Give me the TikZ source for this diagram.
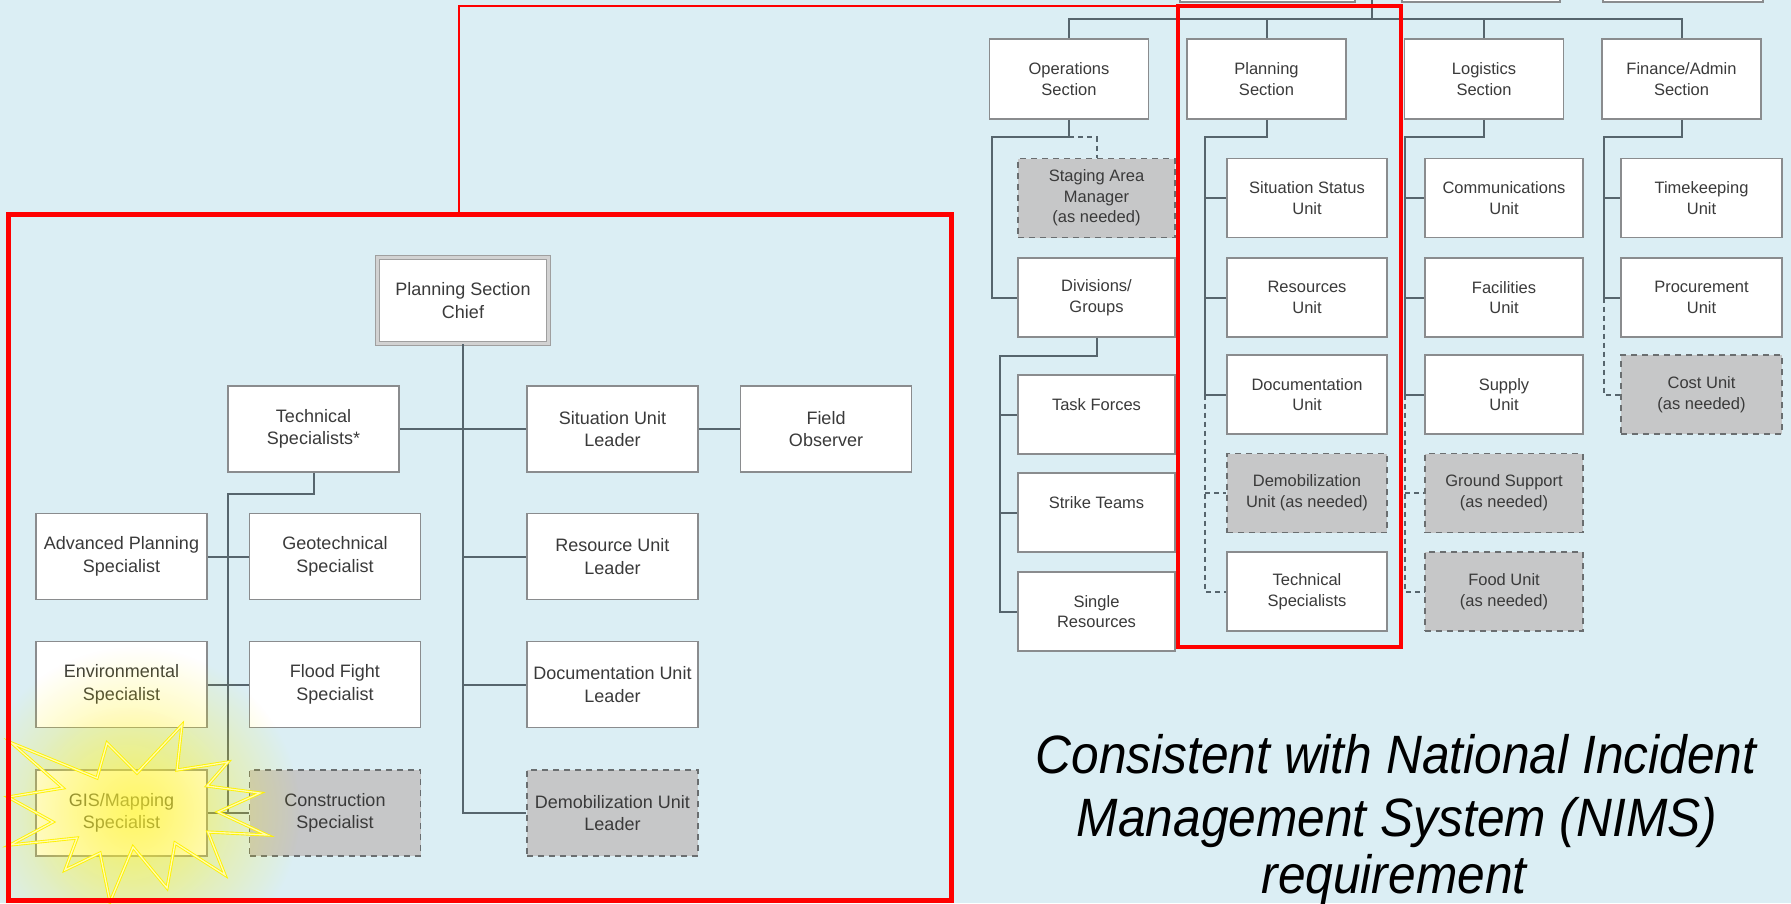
\documentclass[tikz,border=0pt]{standalone}
\usepackage{fontspec}
\setmainfont{Liberation Sans}
\newfontfamily\capfont[FakeStretch=0.92]{Liberation Sans}
\usetikzlibrary{fadings}
\definecolor{bg}{HTML}{DBEEF4}
\definecolor{linecol}{HTML}{56656D}
\definecolor{boxline}{HTML}{8A8C8E}
\definecolor{optfill}{HTML}{C6C7C8}
\definecolor{optline}{HTML}{6A6E70}
\definecolor{txt}{HTML}{3A3A3A}
\definecolor{redbox}{HTML}{FF0000}
\tikzfading[name=glowfade, inner color=transparent!0, outer color=transparent!100]
\tikzset{
  box/.style={draw=boxline, fill=white, line width=1.8pt, rectangle, inner sep=0pt, align=center, text=txt},
  opt/.style={fill=optfill, draw=optline, dash pattern=on 6pt off 5pt},
  lbox/.style={box, minimum width=171pt, minimum height=86pt, font=\fontsize{18}{22.4}\selectfont},
  chiefbox/.style={lbox, draw=gray!75, line width=1.4pt, double=gray!35, double distance=2.6pt},
  rbox/.style={box, minimum width=159pt, minimum height=79pt, font=\fontsize{16.5}{20.6}\selectfont},
  conn/.style={draw=linecol, line width=2pt},
  lconn/.style={draw=linecol, line width=2pt},
  optconn/.style={conn, dash pattern=on 5pt off 4pt},
  starburst/.style={draw=yellow, line width=0.9pt, double=yellow!30, double distance=1.3pt, line join=miter},
  bigtext/.style={font=\capfont\fontsize{54}{62}\selectfont\itshape, text=black, anchor=base, inner sep=0pt}
}
\begin{document}
\begin{tikzpicture}[x=1pt,y=-1pt]
\useasboundingbox (0,0) rectangle (1791,903);
\clip (0,0) rectangle (1791,903);
\fill[bg] (0,0) rectangle (1791,903);

% ---------------- right chart ----------------
% boxes cut off at the top
\node[rbox, minimum width=175pt, minimum height=44pt] (top1) at (1267.5,-20) {};
\node[rbox, minimum width=158pt, minimum height=44pt] (top2) at (1481,-20) {};
\node[rbox, minimum width=160pt, minimum height=44pt] (top3) at (1683,-20) {};

% sections
\node[rbox, minimum height=80pt] (ops)  at (1069,79)   {Operations\\Section};
\node[rbox, minimum height=80pt] (plan) at (1266.5,79) {Planning\\Section};
\node[rbox, minimum height=80pt] (log)  at (1484,79)   {Logistics\\Section};
\node[rbox, minimum height=80pt] (fin)  at (1681.5,79) {Finance/Admin\\Section};

% operations
\node[rbox, opt, minimum width=157pt] (stage)  at (1096.5,198)   {Staging Area\\Manager\\(as needed)};
\node[rbox, minimum width=157pt] (div)    at (1096.5,297.5) {Divisions/\\Groups};
\node[rbox, minimum width=157pt] (task)   at (1096.5,414.5) {Task Forces\\~};
\node[rbox, minimum width=157pt] (strike) at (1096.5,512.5) {Strike Teams\\~};
\node[rbox, minimum width=157pt] (single) at (1096.5,611.5) {Single\\Resources};

% planning
\node[rbox, minimum width=160pt] (psit)  at (1307,198)   {Situation Status\\Unit};
\node[rbox, minimum width=160pt] (pres)  at (1307,297.5) {Resources\\Unit};
\node[rbox, minimum width=160pt] (pdoc)  at (1307,394.5) {Documentation\\Unit};
\node[rbox, opt, minimum width=160pt] (pdem) at (1307,493) {Demobilization\\Unit (as needed)};
\node[rbox, minimum width=160pt] (ptech) at (1307,591.5) {Technical\\Specialists};

% logistics
\node[rbox, minimum width=158pt] (comm)   at (1504,198)   {Communications\\Unit};
\node[rbox, minimum width=158pt] (fac)    at (1504,297.5) {Facilities\\Unit};
\node[rbox, minimum width=158pt] (sup)    at (1504,394.5) {Supply\\Unit};
\node[rbox, opt, minimum width=158pt] (ground) at (1504,493)   {Ground Support\\(as needed)};
\node[rbox, opt, minimum width=158pt] (food)   at (1504,591.5) {Food Unit\\(as needed)};

% finance
\node[rbox, minimum width=161pt] (time) at (1701.5,198)   {Timekeeping\\Unit};
\node[rbox, minimum width=161pt] (proc) at (1701.5,297.5) {Procurement\\Unit};
\node[rbox, opt, minimum width=161pt] (cost) at (1701.5,394.5) {Cost Unit\\(as needed)};

% top bus
\coordinate (icup) at (1372,-5);
\coordinate (bus) at (1372,19);
\draw[conn] (icup) -- (bus);
\draw[conn] (ops.north) -- (ops.north |- bus) -- (fin.north |- bus) -- (fin.north);
\draw[conn] (plan.north) -- (plan.north |- bus);
\draw[conn] (log.north) -- (log.north |- bus);

% operations connectors
\coordinate (opsbend) at (992,137);
\draw[conn] (ops.south) |- (opsbend) |- (div.west);
\draw[optconn] (ops.south |- opsbend) -| (stage.north);
\coordinate (divbend) at (1000,356);
\draw[conn] (div.south) |- (divbend) |- (single.west);
\draw[conn] (divbend |- task.west) -- (task.west);
\draw[conn] (divbend |- strike.west) -- (strike.west);

% planning connectors
\coordinate (plbend) at (1205,137);
\draw[conn] (plan.south) |- (plbend) |- (pdoc.west);
\draw[conn] (plbend |- psit.west) -- (psit.west);
\draw[conn] (plbend |- pres.west) -- (pres.west);
\draw[optconn] (plbend |- pdoc.west) |- (ptech.west);
\draw[optconn] (plbend |- pdem.west) -- (pdem.west);

% logistics connectors
\coordinate (lgbend) at (1405,137);
\draw[conn] (log.south) |- (lgbend) |- (sup.west);
\draw[conn] (lgbend |- comm.west) -- (comm.west);
\draw[conn] (lgbend |- fac.west) -- (fac.west);
\draw[optconn] (lgbend |- sup.west) |- (food.west);
\draw[optconn] (lgbend |- ground.west) -- (ground.west);

% finance connectors
\coordinate (fnbend) at (1604,137);
\draw[conn] (fin.south) |- (fnbend) |- (proc.west);
\draw[conn] (fnbend |- time.west) -- (time.west);
\draw[optconn] (fnbend |- proc.west) |- (cost.west);

% ---------------- left chart ----------------
\node[chiefbox] (chief) at (463,300.5) {Planning Section\\Chief};
\node[lbox] (tech)  at (313.5,429)   {Technical\\Specialists*};
\node[lbox] (sit)   at (612.5,429)   {Situation Unit\\Leader};
\node[lbox] (field) at (826,429)     {Field\\Observer};
\node[lbox] (res)   at (612.5,556.5) {Resource Unit\\Leader};
\node[lbox] (doc)   at (612.5,684.5) {Documentation Unit\\Leader};
\node[lbox, opt] (demob) at (612.5,813) {Demobilization Unit\\Leader};
\node[lbox] (adv)   at (121.5,556.5) {Advanced Planning\\Specialist};
\node[lbox] (geo)   at (335,556.5)   {Geotechnical\\Specialist};
\node[lbox] (env)   at (121.5,684.5) {Environmental\\Specialist};
\node[lbox] (flood) at (335,684.5)   {Flood Fight\\Specialist};
\node[lbox] (gis)   at (121.5,813)   {GIS/Mapping\\Specialist};
\node[lbox, opt] (cons) at (335,813) {Construction\\Specialist};

\draw[lconn] (chief.south) |- (demob.west);
\draw[lconn] (chief.south |- res.west) -- (res.west);
\draw[lconn] (chief.south |- doc.west) -- (doc.west);
\draw[lconn] (tech.east) -- (sit.west);
\draw[lconn] (sit.east) -- (field.west);
\coordinate (tbend) at (228,494);
\draw[lconn] (tech.south) |- (tbend) -- (tbend |- gis.east);
\draw[lconn] (adv.east) -- (geo.west);
\draw[lconn] (env.east) -- (flood.west);
\draw[lconn] (gis.east) -- (cons.west);

% glow and star
\fill[yellow, fill opacity=0.6, path fading=glowfade] (135,812) circle (165pt);
\fill[yellow!60!white, fill opacity=0.35, path fading=glowfade] (125,812) circle (105pt);
\draw[starburst] (11.7,743) -- (97,778) -- (107,743) -- (137,773) -- (182,725) -- (177,770)
  -- (228,762) -- (207,786) -- (260,793) -- (218,812) -- (267,835) -- (208,832)
  -- (225,875) -- (175,843) -- (167,888) -- (133,847) -- (110,902) -- (100,853)
  -- (65,870) -- (77,838) -- (10,845) -- (53,822) -- (8,797) -- (63,788) -- cycle;

% ---------------- red highlights ----------------
\draw[redbox, line width=5pt] (8,214) rectangle (951,900);
\coordinate (lbtop) at (459,214);
\coordinate (rbtl) at (1178,6);
\coordinate (rbbr) at (1401,647);
\draw[redbox, line width=2pt] (lbtop) |- (rbtl);
\draw[redbox, line width=4.5pt] (rbtl) rectangle (rbbr);

% ---------------- caption ----------------
\node[bigtext] (t1) at (1396,773) {Consistent with National Incident};
\node[bigtext] (t2) at (1397,836) {Management System (NIMS)};
\node[bigtext] (t3) at (1394,893) {requirement};
\end{tikzpicture}
\end{document}
